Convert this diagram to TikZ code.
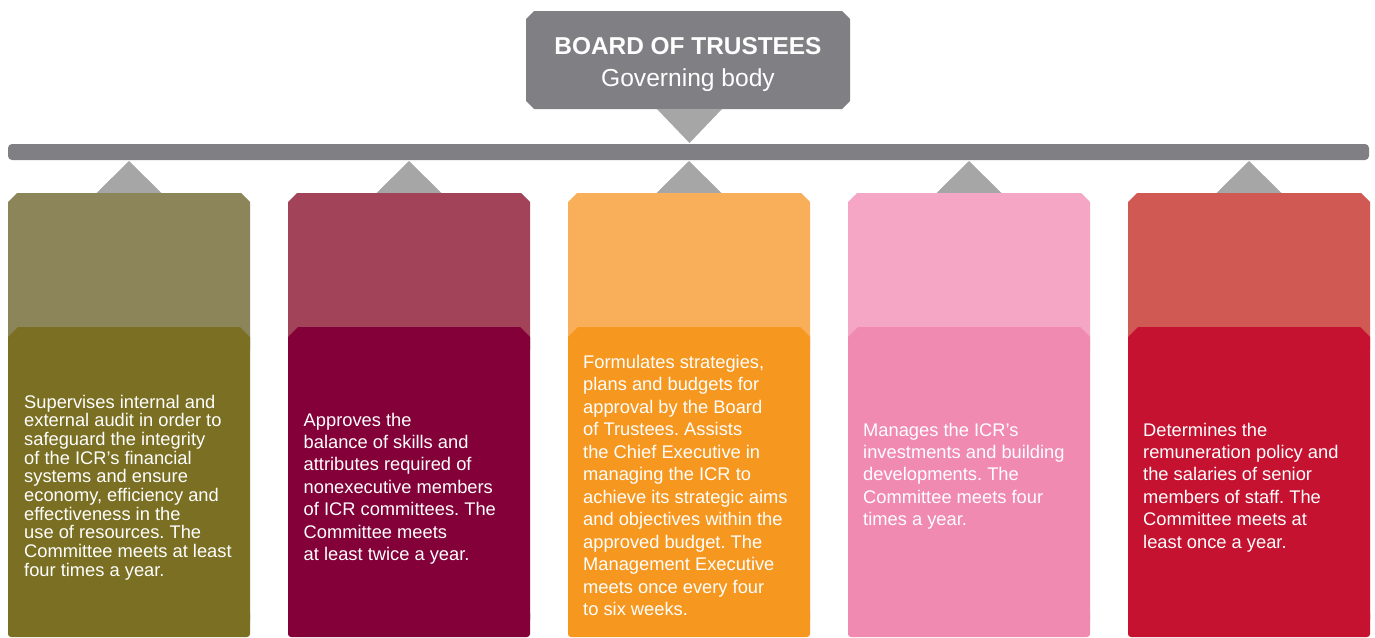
\documentclass[tikz,border=0pt]{standalone}
\usepackage{fontspec}
\setmainfont{Liberation Sans}
\frenchspacing
\definecolor{boardgray}{RGB}{128,127,131}
\definecolor{trigray}{RGB}{166,166,166}
\definecolor{cAl}{RGB}{139,133,89}
\definecolor{cAd}{RGB}{122,111,34}
\definecolor{cBl}{RGB}{162,67,90}
\definecolor{cBd}{RGB}{131,0,56}
\definecolor{cCl}{RGB}{249,174,89}
\definecolor{cCd}{RGB}{246,151,31}
\definecolor{cDl}{RGB}{245,166,196}
\definecolor{cDd}{RGB}{240,138,177}
\definecolor{cEl}{RGB}{208,89,83}
\definecolor{cEd}{RGB}{196,18,48}
\tikzset{
  desc/.style={inner sep=0pt, anchor=base west, text=white, font=\fontsize{18.3}{22.47}\selectfont\frenchspacing},
  desctight/.style={desc, font=\fontsize{18.3}{18.67}\selectfont\frenchspacing},
  titletext/.style={inner sep=0pt, anchor=base, text=white}
}
\begin{document}
\begin{tikzpicture}[x=1pt,y=-1pt]
\useasboundingbox (0,0) rectangle (1375,637);
% board box
\fill[boardgray] (534,11) -- (842,11) -- (850,19) -- (850,101) -- (842,109) -- (534,109) -- (526,101) -- (526,19) -- cycle;
\node[titletext, font=\bfseries\fontsize{24.4}{28}\selectfont] (title) at (688,54) {BOARD OF TRUSTEES};
\node[titletext, font=\fontsize{24.6}{28}\selectfont] (subtitle) at (688,86) {Governing body};
% connector to bar
\fill[trigray] (657,109) -- (722,109) -- (689.5,143) -- cycle;
\fill[boardgray, rounded corners=4] (8,144) rectangle (1369,160);
% columns
\foreach \i/\lc/\dc in {0/cAl/cAd,1/cBl/cBd,2/cCl/cCd,3/cDl/cDd,4/cEl/cEd}{
  \pgfmathsetmacro{\L}{8+280*\i}
  \pgfmathsetmacro{\R}{250+280*\i}
  \pgfmathsetmacro{\C}{129+280*\i}
  \fill[trigray] (\C-33,193.5) -- (\C,161) -- (\C+33,193.5) -- cycle;
  \fill[\lc] (\L,350) -- (\L,202) -- (\L+9,193) -- (\R-9,193) -- (\R,202) -- (\R,350) -- cycle;
  \fill[\dc] (\L,620) -- (\L,337) -- (\L+10,327) -- (\R-10,327) -- (\R,337) -- (\R,620) -- cycle;
  \fill[\dc, rounded corners=3] (\L,610) rectangle (\R,637);
}
% texts
\node[desctight] (audit) at (24,408) {\parbox[t]{235pt}{\raggedright Supervises internal and\\external audit in order to\\safeguard the integrity\\of the ICR’s financial\\systems and ensure\\economy, efficiency and\\effectiveness in the\\use of resources. The\\Committee meets at least\\four times a year.}};
\node[desc] (nominations) at (303.5,426) {\parbox[t]{235pt}{\raggedright Approves the\\balance of skills and\\attributes required of\\nonexecutive members\\of ICR committees. The\\Committee meets\\at least twice a year.}};
\node[desc] (management) at (583,368.3) {\parbox[t]{235pt}{\raggedright Formulates strategies,\\plans and budgets for\\approval by the Board\\of Trustees. Assists\\the Chief Executive in\\managing the ICR to\\achieve its strategic aims\\and objectives within the\\approved budget. The\\Management Executive\\meets once every four\\to six weeks.}};
\node[desc] (investment) at (863,436) {\parbox[t]{235pt}{\raggedright Manages the ICR’s\\investments and building\\developments. The\\Committee meets four\\times a year.}};
\node[desc] (remuneration) at (1143,436) {\parbox[t]{235pt}{\raggedright Determines the\\remuneration policy and\\the salaries of senior\\members of staff. The\\Committee meets at\\least once a year.}};
\end{tikzpicture}
\end{document}
